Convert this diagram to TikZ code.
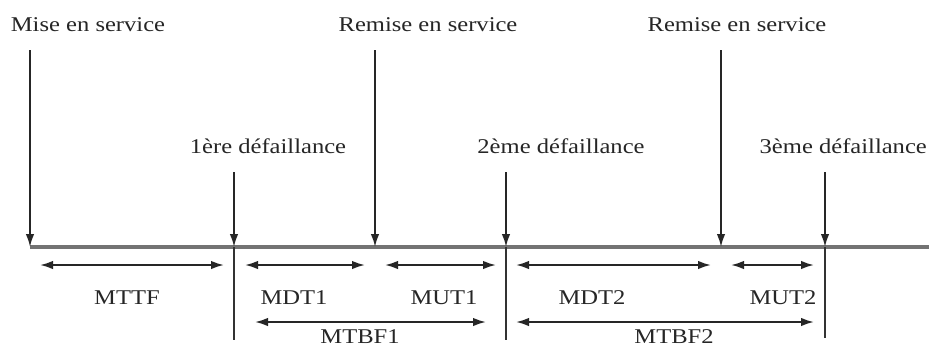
\documentclass[tikz,border=0pt]{standalone}
\usepackage{fontspec}
\setmainfont[FakeStretch=1.17]{Liberation Serif}
\usetikzlibrary{arrows.meta}
\begin{document}
\begin{tikzpicture}[x=1pt,y=-1pt,
  lbl/.style={inner sep=0pt,font=\fontsize{21}{25}\selectfont,text=black!85},
  evt/.style={-{Latex[length=13pt,width=8.5pt]},line width=1.9pt,draw=black!85},
  dur/.style={{Latex[length=13pt,width=8.5pt]}-{Latex[length=13pt,width=8.5pt]},line width=1.9pt,draw=black!85},
  axis/.style={line width=3.2pt,draw=black!55},
  tickline/.style={line width=1.6pt,draw=black!80}]
\useasboundingbox (0,0) rectangle (929,349);
\clip (0,0) rectangle (929,349);
\fill[white] (0,0) rectangle (929,349);
% labels
\node[lbl] (l0) at (88,25) {Mise en service};
\node[lbl] (l1) at (268,146) {1ère défaillance};
\node[lbl] (l2) at (428,25) {Remise en service};
\node[lbl] (l3) at (561,146) {2ème défaillance};
\node[lbl] (l4) at (737,25) {Remise en service};
\node[lbl,anchor=east] (l5) at (927,146) {3ème défaillance};
% event points
\coordinate (s0) at (30,50);   \coordinate (e0) at (30,247);
\coordinate (s1) at (234,172); \coordinate (e1) at (234,247); \coordinate (b1) at (234,340);
\coordinate (s2) at (375,50);  \coordinate (e2) at (375,247);
\coordinate (s3) at (506,172); \coordinate (e3) at (506,247); \coordinate (b3) at (506,340);
\coordinate (s4) at (721,50);  \coordinate (e4) at (721,247);
\coordinate (s5) at (825,172); \coordinate (e5) at (825,247); \coordinate (b5) at (825,338);
\coordinate (axend) at (929,247);
% timeline
\draw[axis] (e0) -- (axend);
\draw[tickline] (e1) -- (b1);
\draw[tickline] (e3) -- (b3);
\draw[tickline] (e5) -- (b5);
% event arrows
\draw[evt] (s0) -- (e0);
\draw[evt] (s1) -- (e1);
\draw[evt] (s2) -- (e2);
\draw[evt] (s3) -- (e3);
\draw[evt] (s4) -- (e4);
\draw[evt] (s5) -- (e5);
% duration arrows row 1
\coordinate (a1) at (40,265);  \coordinate (a2) at (224,265);
\coordinate (a3) at (245,265); \coordinate (a4) at (365,265);
\coordinate (a5) at (385,265); \coordinate (a6) at (496,265);
\coordinate (a7) at (516,265); \coordinate (a8) at (711,265);
\coordinate (a9) at (731,265); \coordinate (a10) at (814,265);
\draw[dur] (a1) -- (a2);
\draw[dur] (a3) -- (a4);
\draw[dur] (a5) -- (a6);
\draw[dur] (a7) -- (a8);
\draw[dur] (a9) -- (a10);
% duration arrows row 2
\coordinate (c1) at (255,322); \coordinate (c2) at (486,322);
\coordinate (c3) at (516,322); \coordinate (c4) at (814,322);
\draw[dur] (c1) -- (c2);
\draw[dur] (c3) -- (c4);
% duration labels
\node[lbl] (mttf) at (127,298) {MTTF};
\node[lbl] (mdt1) at (294,298) {MDT1};
\node[lbl] (mut1) at (444,298) {MUT1};
\node[lbl] (mdt2) at (592,298) {MDT2};
\node[lbl] (mut2) at (783,298) {MUT2};
\node[lbl] (mtbf1) at (360,337) {MTBF1};
\node[lbl] (mtbf2) at (674,337) {MTBF2};
\end{tikzpicture}
\end{document}
